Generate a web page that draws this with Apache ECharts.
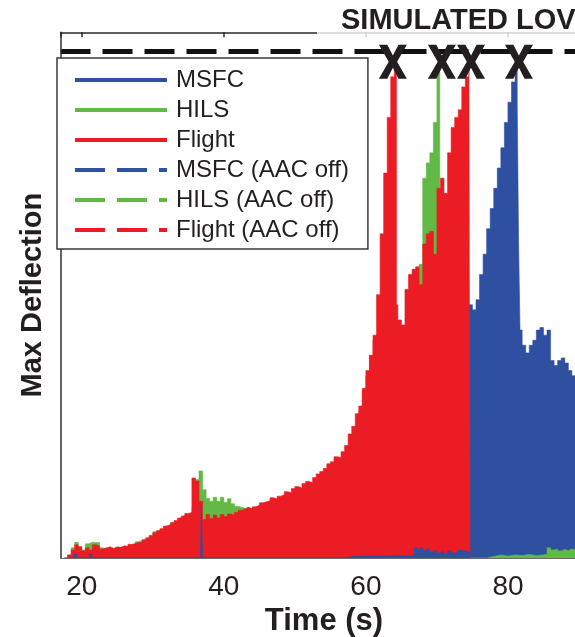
<!DOCTYPE html>
<html><head><meta charset="utf-8">
<script src="https://cdn.jsdelivr.net/npm/echarts@6/dist/echarts.min.js"></script>
<style>html,body{margin:0;padding:0;background:#fff}#c{width:575px;height:637px}</style>
</head><body><div id="c"></div>
<script>
// ---- data (time in s, normalised max deflection; 1 = simulated LOV limit) ----
const lovLevel = 1;
const xTickLabels = [20, 40, 60, 80];

const flightT = [17.5,18,18.5,19,19.5,20,20.5,21,21.5,22,22.5,23,23.5,24,24.5,25,25.5,26,26.5,27,27.5,28,28.5,29,29.5,30,30.5,31,31.5,32,32.5,33,33.5,34,34.5,35,35.5,36,36.5,37,37.5,38,38.5,39,39.5,40,40.5,41,41.5,42,42.5,43,43.5,44,44.5,45,45.5,46,46.5,47,47.5,48,48.5,49,49.5,50,50.5,51,51.5,52,52.5,53,53.5,54,54.5,55,55.5,56,56.5,57,57.5,58,58.5,59,59.5,60,60.5,61,61.5,62,62.5,63,63.5,64,64.5,65,65.5,66,66.5,67,67.5,68,68.5,69,69.5,70,70.5,71,71.5,72,72.5,73,73.5,74,74.5,74.65];
const flightV = [0,.006,.016,.026,.022,.014,.02,.016,.026,.024,
  .018,.02,.022,.019,.022,.021,.024,.023,.027,.028,
  .031,.03,.036,.04,.044,.05,.054,.058,.063,.066,
  .07,.074,.079,.083,.088,.09,.158,.152,.112,.076,
  .086,.078,.085,.079,.086,.082,.087,.085,.09,.094,
  .097,.1,.097,.101,.104,.109,.111,.113,.119,.117,
  .122,.125,.131,.129,.137,.141,.138,.147,.151,.149,
  .159,.166,.171,.177,.186,.19,.2,.198,.21,.222,
  .245,.26,.285,.3,.335,.37,.4,.43,.44,.46,
  .47,.48,.49,.5,.47,.46,.53,.56,.57,.575,
  .54,.62,.64,.645,.6,.73,.75,.72,.8,.85,
  .87,.885,.93,.95,.99,0];

const hilsT = [17.5,18,18.5,19,19.5,20,20.5,21,21.5,22,22.5,23,23.5,24,24.5,25,25.5,26,26.5,27,27.5,28,28.5,29,29.5,30,30.5,31,31.5,32,32.5,33,33.5,34,34.5,35,35.5,36,36.5,37,37.5,38,38.5,39,39.5,40,40.5,41,41.5,42,42.5,43,43.5,44,44.5,45,45.5,
  77,78,79,80,81,82,83,84,85,85.5,86,86.5,87,87.5,88,88.5,89,89.5,90,90.5,91,91.5];
const hilsV = [0,.006,.02,.031,.022,.016,.028,.031,.03,.031,
  .02,.018,.02,.018,.02,.02,.022,.022,.025,.027,
  .032,.035,.037,.04,.045,.052,.055,.058,.06,.064,
  .068,.072,.077,.08,.085,.088,.1,.155,.172,.135,
  .118,.112,.12,.112,.12,.11,.117,.107,.102,.1,
  .098,.1,.096,.1,.1,.1,0,
  .003,.006,.004,.006,.005,.007,.005,.006,.008,.02,.016,.018,.014,.017,.015,.018,.016,.017,.015,.016,.016,.015];

const msfcT = [17.5,18.8,19.0,19.3,20.8,21.1,21.4,36.7,36.8,37.0,57,58,60,62,64,66,66.8,67.2,67.6,68,68.5,69,69.5,70,70.5,71,71.5,72,72.5,73,73.5,74,74.6];
const msfcV = [0,.001,.008,.001,.001,.008,.001,.004,.105,.001,.003,.004,.004,.005,.004,.005,.02,.016,.02,.014,.018,.012,.015,.01,.013,.009,.014,.01,.012,.016,.014,.011,0];

const flightOffT = [58,58.5,59,59.5,60,60.5,61,61.5,62,62.5,63,63.5,64,64.3];
const flightOffV = [.2,.25,.29,.33,.36,.4,.44,.52,.64,.76,.87,.95,.98,0];

const hilsOffT = [66.5,67,67.5,68,68.5,69,69.5,70,70.4];
const hilsOffV = [.5,.54,.58,.75,.78,.8,.86,.96,0];

const msfcOffT = [74.5,75,75.5,76,76.5,77,77.5,78,78.5,79,79.5,80,80.5,81,81.3,81.5,81.7,82,82.5,83,83.5,84,84.5,85,85.5,86,86.5,87,87.5,88,88.5,89,89.5,90,90.5,91,91.5];
const msfcOffV = [.5,.49,.51,.56,.6,.65,.69,.73,.77,.81,.86,.9,.94,.98,.9,.62,.45,.42,.405,.42,.43,.45,.455,.44,.45,.39,.38,.39,.395,.385,.37,.36,.355,.36,.35,.35,.35];

// simulated loss-of-vehicle events (X markers)
const lovEventT = [63.8, 70.7, 74.8, 81.55];
const lovEventV = [0.98, 0.98, 0.98, 0.98];

// ---- chart ----
const FONT = "'Liberation Sans', Arial, Helvetica, sans-serif";
const BLUE = '#2f4fa0', GREEN = '#63b946', RED = '#ec1c24', INK = '#231f20';
const zip = (t, v) => t.map((x, i) => [x, v[i]]);
function area(name, t, v, color, z) {
  return {
    name, type: 'line', data: zip(t, v), step: 'end', symbol: 'none', showSymbol: false, z,
    lineStyle: { width: 0.6, color }, itemStyle: { color },
    areaStyle: { color, opacity: 1 }, silent: true, clip: true
  };
}
const solid = { width: 4, type: 'solid', opacity: 1 };
const dashed = { width: 4, type: [30, 12], opacity: 1 };

const chart = echarts.init(document.getElementById('c'));
chart.setOption({
  animation: false,
  title: {
    text: 'SIMULATED LOV', left: 341, top: 6, padding: 0, z: 30,
    textStyle: { fontSize: 29, fontWeight: 'bold', color: INK, fontFamily: FONT }
  },
  graphic: [{
    type: 'rect', shape: { x: 317, y: 0, width: 300, height: 40 },
    style: { fill: 'rgba(255,255,255,0.8)' }, z: 25, silent: true
  }],
  grid: { left: 60.5, right: -12.5, top: 32.3, bottom: 79, containLabel: false, outerBoundsMode: 'none' },
  legend: {
    orient: 'vertical', left: 57, top: 58, padding: [10, 19, 7, 16], z: 30,
    itemGap: 6, itemWidth: 92, itemHeight: 14, selectedMode: false,
    backgroundColor: '#fff', borderColor: '#3a3a3a', borderWidth: 1.5, borderRadius: 0,
    itemStyle: { opacity: 0 },
    textStyle: { fontFamily: FONT, fontSize: 24, color: INK, lineHeight: 24, padding: [0, 0, 0, 4] },
    data: [
      { name: 'MSFC', lineStyle: solid },
      { name: 'HILS', lineStyle: solid },
      { name: 'Flight', lineStyle: solid },
      { name: 'MSFC (AAC off)', lineStyle: dashed },
      { name: 'HILS (AAC off)', lineStyle: dashed },
      { name: 'Flight (AAC off)', lineStyle: dashed }
    ]
  },
  xAxis: [{
    type: 'value', min: 17, max: 91.2, splitNumber: 4, minInterval: 20, maxInterval: 20, position: 'bottom', z: 20,
    axisLine: { show: true, lineStyle: { color: '#6b6b6b', width: 1 } },
    axisTick: { show: false },
    axisLabel: {
      fontSize: 28, color: INK, fontFamily: FONT, margin: 15, showMinLabel: false, showMaxLabel: false,
      formatter: v => (xTickLabels.indexOf(v) >= 0 ? String(v) : '')
    },
    splitLine: { show: false },
    name: 'Time (s)', nameLocation: 'middle', nameGap: 47,
    nameTextStyle: { fontSize: 31, fontWeight: 'bold', color: INK, fontFamily: FONT }
  }, {
    type: 'value', min: 17, max: 91.2, splitNumber: 4, minInterval: 20, maxInterval: 20, position: 'top', z: 20,
    axisLine: { show: true, lineStyle: { color: '#2a2a2a', width: 1.5 } },
    axisTick: { show: true, inside: true, length: 5, lineStyle: { color: '#2a2a2a', width: 1.5 } },
    axisLabel: { show: false }, splitLine: { show: false }
  }],
  yAxis: {
    type: 'value', min: 0, max: 1.038, z: 20,
    axisLine: { show: true, lineStyle: { color: '#333', width: 1.5 } },
    axisTick: { show: false }, axisLabel: { show: false }, splitLine: { show: false },
    name: 'Max Deflection', nameLocation: 'middle', nameGap: 13,
    nameTextStyle: { fontSize: 29, fontWeight: 'bold', color: INK, fontFamily: FONT }
  },
  series: [
    area('MSFC (AAC off)', msfcOffT, msfcOffV, BLUE, 2),
    area('HILS (AAC off)', hilsOffT, hilsOffV, GREEN, 3),
    area('Flight (AAC off)', flightOffT, flightOffV, RED, 4),
    area('HILS', hilsT, hilsV, GREEN, 5),
    area('Flight', flightT, flightV, RED, 6),
    area('MSFC', msfcT, msfcV, BLUE, 7),
    {
      name: 'LOV', type: 'line', data: [], silent: true, z: 8,
      markLine: {
        silent: true, symbol: ['none', 'none'], label: { show: false },
        lineStyle: { color: '#111', width: 5, type: [30, 12] },
        data: [{ yAxis: lovLevel }]
      }
    },
    {
      name: 'LOV event', type: 'scatter', data: zip(lovEventT, lovEventV), silent: true, z: 9,
      symbol: 'path://M0,0 L30,0 L50,32 L70,0 L100,0 L65,50 L100,100 L70,100 L50,68 L30,100 L0,100 L35,50 Z',
      symbolSize: [28, 34], itemStyle: { color: INK, opacity: 1 }
    }
  ]
});
</script>
</body></html>
